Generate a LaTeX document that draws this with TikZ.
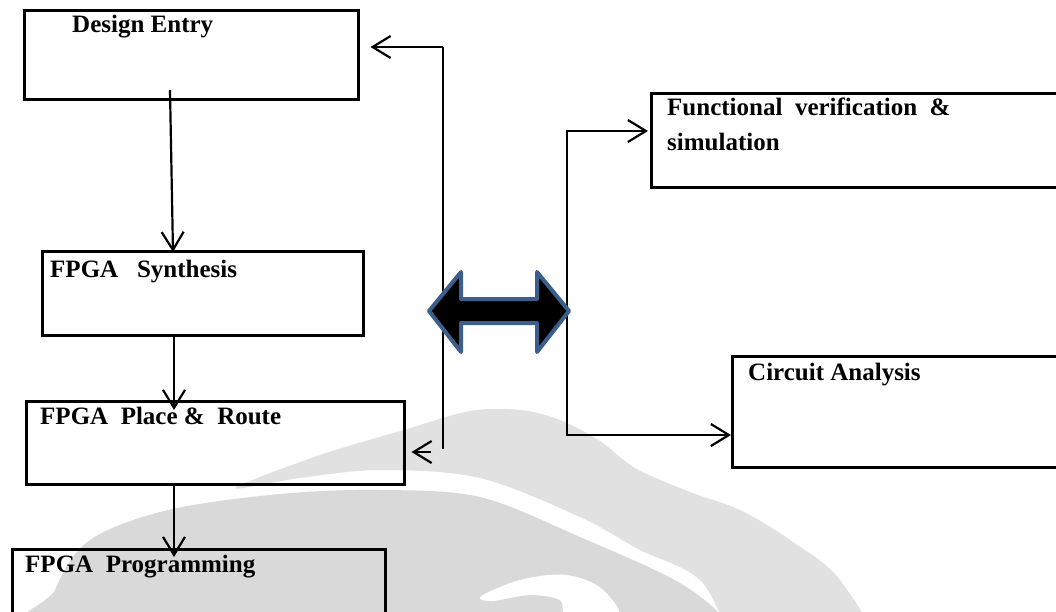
\documentclass[tikz,border=0pt]{standalone}
\usepackage{fontspec}
\setmainfont{Liberation Serif}
\usetikzlibrary{arrows.meta,calc}
\definecolor{wmA}{HTML}{E1E1E1}
\definecolor{wmB}{HTML}{D9D9D9}
\definecolor{dblblue}{HTML}{3B5F8C}
\tikzset{
  box/.style={draw=black, line width=2.5pt, rectangle, inner sep=0pt, anchor=north west},
  lbl/.style={anchor=base west, inner sep=0pt, font=\fontsize{25}{30}\selectfont\bfseries},
  arr/.style={line width=2.2pt, -{Straight Barb[length=18pt,width=22pt,line width=2.2pt]}},
  fline/.style={line width=1.7pt},
  dbl/.style={draw=dblblue, fill=black, line width=4pt, line join=round}
}
\begin{document}
\begin{tikzpicture}[x=1pt,y=-1pt]
\clip (0,0) rectangle (1056,611);
\fill[white] (0,0) rectangle (1056,611);
% watermark
\fill[wmA] plot[smooth cycle, tension=0.55] coordinates {(235,488) (320,455) (404,430) (470,411) (520,410) (560,420) (600,441) (635,468) (690,492) (740,510) (790,540) (840,580) (870,650) (750,650) (700,580) (640,550) (580,517) (480,478) (380,470) (300,478)};
\fill[wmB] plot[smooth cycle, tension=0.55] coordinates {(40,660) (55,590) (90,540) (168,510) (280,494) (380,490) (480,497) (580,537) (680,583) (730,625) (740,660)};
\fill[white] plot[smooth cycle, tension=0.55] coordinates {(480,597) (510,583) (540,576) (567,575) (593,583) (610,597) (617,615) (567,615) (560,600) (530,595) (493,601)};
% boxes
\node[box, minimum width=334pt, minimum height=89pt] (de) at (23,9) {};
\node[box, minimum width=321pt, minimum height=84pt] (syn) at (41,250) {};
\node[box, minimum width=378pt, minimum height=83pt] (pr) at (25,400) {};
\node[box, minimum width=373pt, minimum height=80pt] (prog) at (11,548) {};
\node[box, minimum width=410pt, minimum height=94pt] (fv) at (650,92) {};
\node[box, minimum width=330pt, minimum height=111pt] (ca) at (731,355) {};
% labels
\node[lbl] (deT) at (72,32) {Design Entry};
\node[lbl] (synT) at (50,277) {FPGA\ \ \ Synthesis};
\node[lbl] (prT) at (40,424) {FPGA\ \ Place \&\ \ Route};
\node[lbl] (progT) at (25,572) {FPGA\ \ Programming};
\node[lbl] (fvT1) at (667,115) {Functional\ \ verification\ \ \&};
\node[lbl] (fvT2) at (667,150) {simulation};
\node[lbl] (caT) at (748,380) {Circuit Analysis};
% main flow
\coordinate (deOut) at (170,90);
\draw[arr] (deOut) -- ([xshift=132pt,yshift=-2pt]syn.north west);
\draw[arr] ([xshift=133pt]syn.south west) -- ([xshift=149pt,yshift=-10pt]pr.north west);
\draw[arr] ([xshift=149pt]pr.south west) -- ([xshift=163pt,yshift=-9pt]prog.north west);
% feedback loop
\coordinate (fbTop) at (443,47);
\coordinate (fbBot) at (443,449);
\coordinate (fbIn) at (431,452);
\draw[fline] (fbBot) -- (fbTop);
\draw[arr] (fbTop) -- ($(fbTop -| de.east)+(11,0)$);
\draw[arr] (fbIn) -- ($(fbIn -| pr.east)+(6,0)$);
% right branch
\coordinate (rTop) at (567,131);
\coordinate (rBot) at (567,435);
\draw[arr] (rBot) -- (rTop) -- ($(rTop -| fv.west)+(-2,0)$);
\draw[arr] (rTop) -- (rBot) -- (rBot -| ca.west);
% double arrow
\draw[dbl] (429,311) -- (461,272) -- (461,299) -- (537,299) -- (537,272) -- (569,311) -- (537,352) -- (537,323) -- (461,323) -- (461,352) -- cycle;
\end{tikzpicture}
\end{document}
